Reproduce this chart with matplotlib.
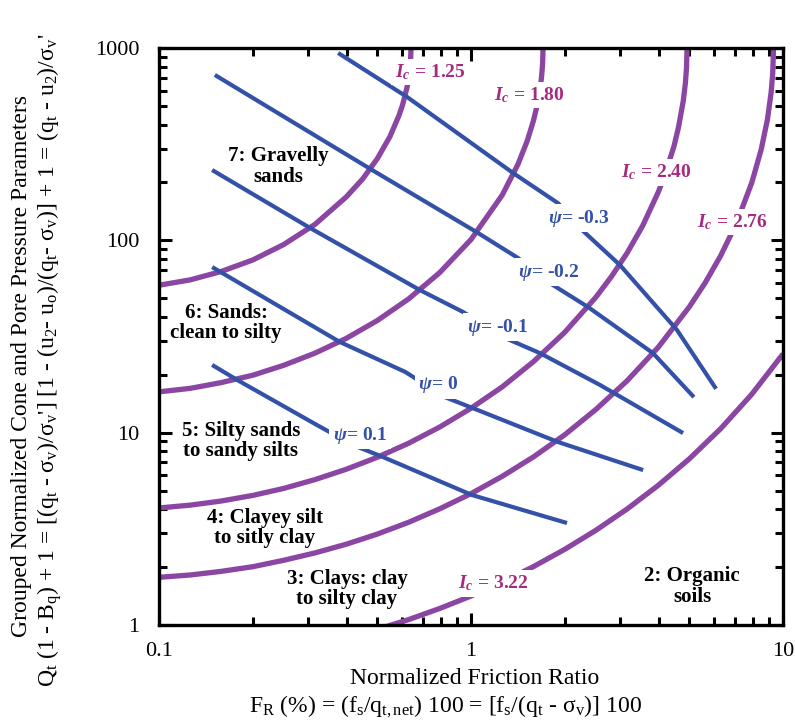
import numpy as np
import matplotlib.pyplot as plt

plt.rcParams['font.family'] = ['Liberation Serif', 'DejaVu Serif']
plt.rcParams['mathtext.fontset'] = 'custom'
plt.rcParams['mathtext.rm'] = 'Liberation Serif'
plt.rcParams['mathtext.it'] = 'Liberation Serif:italic'
plt.rcParams['mathtext.bf'] = 'Liberation Serif:bold'
plt.rcParams['mathtext.bfit'] = 'Liberation Serif:italic:bold'

# Ic boundaries (F_R, Q)
ic125_f = [0.1, 0.126, 0.158, 0.2, 0.251, 0.316, 0.398, 0.45, 0.501, 0.55, 0.588, 0.603, 0.624, 0.631, 0.637, 0.64, 0.642]
ic125_q = [58.4, 62.3, 68.8, 79.1, 95.1, 121, 168, 209, 266, 347, 447, 504, 627, 695, 777, 850, 1000]
ic180_f = [0.1, 0.126, 0.158, 0.2, 0.251, 0.316, 0.398, 0.501, 0.631, 0.794, 1.0, 1.259, 1.413, 1.514, 1.585, 1.622, 1.66, 1.679, 1.69, 1.696, 1.701]
ic180_q = [16.3, 17.0, 18.2, 19.9, 22.4, 25.9, 30.9, 38.3, 49.6, 68.0, 101, 172, 248, 329, 419, 489, 597, 685, 770, 839, 1000]
ic240_f = [0.1, 0.126, 0.158, 0.2, 0.251, 0.316, 0.398, 0.501, 0.631, 0.794, 1.0, 1.259, 1.585, 1.995, 2.512, 2.818, 3.162, 3.548, 3.981, 4.169, 4.47, 4.624, 4.786, 4.864, 4.903, 4.923]
ic240_q = [4.06, 4.20, 4.41, 4.72, 5.13, 5.70, 6.45, 7.45, 8.81, 10.7, 13.4, 17.3, 23.4, 33.2, 50.6, 64.8, 85.8, 119, 178, 216, 308, 388, 529, 658, 784, 1000]
ic276_f = [0.1, 0.126, 0.158, 0.2, 0.251, 0.316, 0.398, 0.501, 0.631, 0.794, 1.0, 1.259, 1.585, 1.995, 2.512, 3.162, 3.981, 5.012, 5.623, 6.31, 7.079, 7.943, 8.511, 8.913, 9.162, 9.268, 9.316]
ic276_q = [1.77, 1.82, 1.90, 2.01, 2.17, 2.37, 2.63, 2.97, 3.42, 4.02, 4.82, 5.93, 7.48, 9.74, 13.2, 18.6, 27.8, 45.2, 60.0, 83.2, 122, 200, 297, 426, 592, 747, 1000]
ic322_f = [0.501, 0.631, 0.794, 1.0, 1.259, 1.585, 1.995, 2.512, 3.162, 3.981, 5.012, 6.31, 7.943, 10.0]
ic322_q = [0.949, 1.067, 1.219, 1.415, 1.671, 2.012, 2.472, 3.107, 4.007, 5.324, 7.32, 10.49, 15.86, 25.7]

ic_curves = [(ic125_f, ic125_q), (ic180_f, ic180_q), (ic240_f, ic240_q),
             (ic276_f, ic276_q), (ic322_f, ic322_q)]
ic_labels = ['1.25', '1.80', '2.40', '2.76', '3.22']
ic_label_f = [0.739, 1.534, 3.92, 6.86, 1.176]
ic_label_q = [750, 570, 226, 124.5, 1.65]

# state parameter lines
psi_m03_f = [0.375, 0.624, 1.363, 1.90, 2.27, 3.00, 4.57, 6.10]
psi_m03_q = [942, 556, 224, 156, 113, 74.4, 34.2, 16.9]
psi_m02_f = [0.151, 0.482, 1.045, 1.415, 1.766, 2.371, 3.83, 5.18]
psi_m02_q = [724, 232, 110, 80.9, 60.7, 45.0, 25.9, 15.3]
psi_m01_f = [0.148, 0.305, 0.686, 0.943, 1.266, 1.664, 2.59, 4.78]
psi_m01_q = [232, 115.9, 55.1, 42.4, 31.4, 25.9, 17.7, 9.95]
psi_0_f = [0.148, 0.380, 0.615, 0.825, 1.015, 1.90, 3.56]
psi_0_q = [72.6, 29.6, 20.7, 15.3, 13.4, 8.94, 6.39]
psi_p01_f = [0.148, 0.178, 0.321, 0.419, 0.522, 1.007, 2.03]
psi_p01_q = [22.5, 18.8, 10.95, 8.62, 7.47, 4.74, 3.39]

psi_lines = [(psi_m03_f, psi_m03_q), (psi_m02_f, psi_m02_q), (psi_m01_f, psi_m01_q),
             (psi_0_f, psi_0_q), (psi_p01_f, psi_p01_q)]
psi_labels = ['-0.3', '-0.2', '-0.1', '0', '0.1']
psi_label_f = [2.22, 1.778, 1.211, 0.784, 0.441]
psi_label_q = [130.6, 68.4, 35.4, 17.7, 9.72]

zone_text = ['7: Gravelly\nsands', '6: Sands:\nclean to silty', '5: Silty sands\nto sandy silts',
             '4: Clayey silt\nto sitly clay', '3: Clays: clay\nto silty clay', '2: Organic\nsoils']
zone_f = [0.2406, 0.164, 0.183, 0.2187, 0.4004, 5.11]
zone_q = [243, 37.2, 9.04, 3.19, 1.537, 1.59]

x_ticks = [0.1, 1, 10]
x_tick_labels = ['0.1', '1', '10']
y_ticks = [1, 10, 100, 1000]
y_tick_labels = ['1', '10', '100', '1000']

purple = '#8B45A2'
ic_text = '#A62A80'
blue = '#3451A8'

fig = plt.figure(figsize=(7.95, 7.27), dpi=100)
ax = fig.add_axes([0.2, 0.1403, 0.785, 0.7937])

for f, q in ic_curves:
    ax.plot(f, q, color=purple, lw=3.8, solid_capstyle='butt', solid_joinstyle='round', zorder=2)
for f, q in psi_lines:
    ax.plot(f, q, color=blue, lw=3.0, solid_capstyle='butt', solid_joinstyle='round', zorder=3)

box = dict(facecolor='white', edgecolor='none', pad=2.5)
for lab, f, q in zip(ic_labels, ic_label_f, ic_label_q):
    ax.text(f, q, r'$\mathbfit{I}_\mathbfit{c}$ = ' + lab, color=ic_text, fontsize=14,
            fontweight='bold', ha='center', va='center', bbox=box, zorder=5)
for lab, f, q in zip(psi_labels, psi_label_f, psi_label_q):
    ax.text(f, q, r'$\mathbfit{ψ}$= ' + lab, color=blue, fontsize=14,
            fontweight='bold', ha='center', va='center', bbox=box, zorder=5)
for t, f, q in zip(zone_text, zone_f, zone_q):
    ax.text(f, q, t, fontsize=15, fontweight='bold', ha='center', va='center',
            linespacing=1.05, zorder=5)

ax.set_xscale('log')
ax.set_yscale('log')
ax.set_xlim(0.1, 10)
ax.set_ylim(1, 1000)
ax.set_xticks(x_ticks)
ax.set_xticklabels(x_tick_labels)
ax.set_yticks(y_ticks)
ax.set_yticklabels(y_tick_labels)
ax.tick_params(which='both', direction='in', top=True, right=True, width=2.2)
ax.tick_params(which='major', length=9, labelsize=16, pad=12)
ax.tick_params(which='minor', length=6)
ax.tick_params(axis='y', which='major', pad=14)
for s in ax.spines.values():
    s.set_linewidth(2.4)

fig.text(475 / 795, 1 - 679 / 727, 'Normalized Friction Ratio', fontsize=17,
         ha='center', va='center')
fig.text(446 / 795, 1 - 707 / 727,
         r'F$_\mathrm{R}$ (%) = (f$_\mathrm{s}$/q$_\mathrm{t,net}$) 100 = '
         r'[f$_\mathrm{s}$/(q$_\mathrm{t}$ - σ$_\mathrm{v}$)] 100',
         fontsize=17, ha='center', va='center')
fig.text(22 / 795, 1 - 366 / 727, 'Grouped Normalized Cone and Pore Pressure Parameters',
         fontsize=17, rotation=90, ha='center', va='center')
fig.text(50 / 795, 1 - 360 / 727,
         r"Q$_\mathrm{t}$ (1 - B$_\mathrm{q}$) + 1 = [(q$_\mathrm{t}$ - σ$_\mathrm{v}$)/σ$_\mathrm{v}$'] "
         r"[1 - (u$_\mathrm{2}$- u$_\mathrm{o}$)/(q$_\mathrm{t}$- σ$_\mathrm{v}$)] + 1 = "
         r"(q$_\mathrm{t}$ - u$_\mathrm{2}$)/σ$_\mathrm{v}$'",
         fontsize=17, rotation=90, ha='center', va='center')

fig.savefig('out.png', dpi=100)
